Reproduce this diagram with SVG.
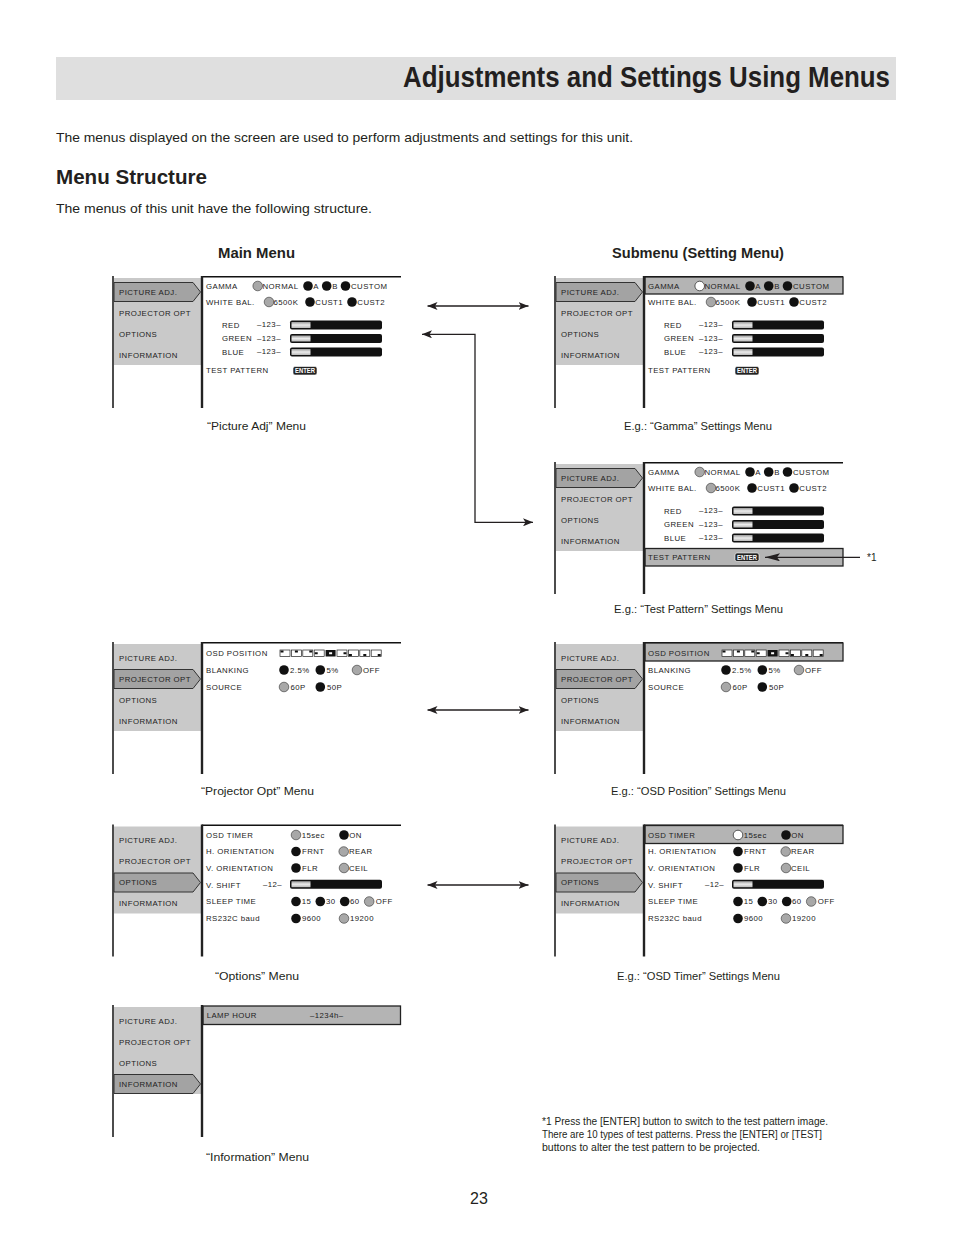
<svg xmlns="http://www.w3.org/2000/svg" width="954" height="1235" viewBox="0 0 954 1235">
<defs>
<style>
.doc{font-family:"Liberation Sans",Arial,sans-serif;fill:#231f20}
.b{font-weight:bold}
.m{font-family:"Liberation Sans",Arial,sans-serif;font-size:7.8px;letter-spacing:0.45px;fill:#222}
.panel{fill:#c9c9c9}
.frame{stroke:#111;stroke-width:1.5;fill:none}
.dv{stroke:#222;stroke-width:2.4;fill:none}
.sel{fill:#a3a3a3;stroke:#333;stroke-width:1}
.hl{fill:#b4b4b4;stroke:#222;stroke-width:1.3}
.rb{fill:#111}
.rg{fill:#a8a8a8;stroke:#333;stroke-width:0.6}
.rw{fill:#fff;stroke:#333;stroke-width:0.8}
.bar{fill:#111}
.barl{fill:url(#bg)}
.ent{fill:#222;stroke:#fff;stroke-width:0.6}
.entt{font-family:"Liberation Sans",Arial,sans-serif;font-size:6.4px;font-weight:bold;fill:#fff}
.ic{fill:#fff;stroke:#222;stroke-width:0.7}
.icb{fill:#111}
.con{stroke:#231f20;stroke-width:1.3;fill:none}
</style>
<linearGradient id="bg" x1="0" y1="0" x2="0" y2="1">
<stop offset="0" stop-color="#9a9a9a"/>
<stop offset="0.5" stop-color="#ececec"/>
<stop offset="1" stop-color="#b8b8b8"/>
</linearGradient>
<marker id="ah" viewBox="0 0 10 8" refX="10" refY="4" markerWidth="10" markerHeight="8" markerUnits="userSpaceOnUse" orient="auto-start-reverse">
<path d="M0,0 L10,4 L0,8 L2.5,4 Z" fill="#231f20"/>
</marker>
<marker id="ah2" viewBox="0 0 15 8" refX="15" refY="4" markerWidth="15" markerHeight="8" markerUnits="userSpaceOnUse" orient="auto">
<path d="M0,0 L15,4 L0,8 L3,4 Z" fill="#231f20"/>
</marker>
</defs>
<rect width="954" height="1235" fill="#fff"/>

<g id="header">
<rect x="56" y="57" width="840" height="43" fill="#dfdfdf"/>
<text class="doc b" x="403" y="87" font-size="29" textLength="487" lengthAdjust="spacingAndGlyphs">Adjustments and Settings Using Menus</text>
<text class="doc" x="56" y="141.5" font-size="13" textLength="577" lengthAdjust="spacingAndGlyphs">The menus displayed on the screen are used to perform adjustments and settings for this unit.</text>
<text class="doc b" x="56" y="184" font-size="21" textLength="151" lengthAdjust="spacingAndGlyphs">Menu Structure</text>
<text class="doc" x="56" y="212.5" font-size="13" textLength="316" lengthAdjust="spacingAndGlyphs">The menus of this unit have the following structure.</text>
<text class="doc b" x="218" y="258" font-size="14" textLength="77" lengthAdjust="spacingAndGlyphs">Main Menu</text>
<text class="doc b" x="612" y="258" font-size="14" textLength="172" lengthAdjust="spacingAndGlyphs">Submenu (Setting Menu)</text>
</g>

<!-- Picture Adj main menu -->
<g id="menu-picture-main">
<path class="frame" d="M113,276 V408"/>
<rect class="panel" x="114" y="278" width="87" height="87"/>
<path class="frame" d="M202,276.8 H401"/>
<path class="dv" d="M202,276 V408"/>
<path class="sel" d="M114,282.5 H193 L200.5,292 L193,301.5 H114 Z"/>
<text class="m" x="119" y="294.8">PICTURE ADJ.</text>
<text class="m" x="119" y="315.8">PROJECTOR OPT</text>
<text class="m" x="119" y="336.8">OPTIONS</text>
<text class="m" x="119" y="357.8">INFORMATION</text>
<text class="m" x="206" y="288.8">GAMMA</text>
<circle class="rg" cx="257.7" cy="286" r="4.8"/>
<text class="m" x="262.5" y="288.8">NORMAL</text>
<circle class="rb" cx="308" cy="286" r="4.8"/>
<text class="m" x="313.3" y="288.8">A</text>
<circle class="rb" cx="326.7" cy="286" r="4.8"/>
<text class="m" x="332.2" y="288.8">B</text>
<circle class="rb" cx="345.5" cy="286" r="4.8"/>
<text class="m" x="351" y="288.8">CUSTOM</text>
<text class="m" x="206" y="304.8">WHITE BAL.</text>
<circle class="rg" cx="269" cy="302" r="4.8"/>
<text class="m" x="273.5" y="304.8">6500K</text>
<circle class="rb" cx="310" cy="302" r="4.8"/>
<text class="m" x="315.3" y="304.8">CUST1</text>
<circle class="rb" cx="352" cy="302" r="4.8"/>
<text class="m" x="357.3" y="304.8">CUST2</text>
<text class="m" x="222" y="327.8">RED</text>
<text class="m" x="257" y="327">–123–</text>
<rect class="bar" x="290" y="320.5" width="92" height="9" rx="2"/>
<rect class="barl" x="291.5" y="322" width="19" height="6"/>
<text class="m" x="222" y="341.3">GREEN</text>
<text class="m" x="257" y="340.5">–123–</text>
<rect class="bar" x="290" y="334" width="92" height="9" rx="2"/>
<rect class="barl" x="291.5" y="335.5" width="19" height="6"/>
<text class="m" x="222" y="354.8">BLUE</text>
<text class="m" x="257" y="354">–123–</text>
<rect class="bar" x="290" y="347.5" width="92" height="9" rx="2"/>
<rect class="barl" x="291.5" y="349" width="19" height="6"/>
<text class="m" x="206" y="373.3">TEST PATTERN</text>
<rect class="ent" x="293" y="366.5" width="24" height="8.5" rx="2"/>
<text class="entt" x="295" y="373.2" textLength="20" lengthAdjust="spacingAndGlyphs">ENTER</text>
</g>
<text class="doc" x="207" y="430" font-size="11" textLength="99" lengthAdjust="spacingAndGlyphs">“Picture Adj” Menu</text>

<!-- Gamma submenu -->
<g id="menu-gamma-sub" transform="translate(442,0)">
<path class="frame" d="M113,276 V408"/>
<rect class="panel" x="114" y="278" width="87" height="87"/>
<path class="frame" d="M202,276.8 H401"/>
<rect class="hl" x="203" y="277" width="198" height="17"/>
<path class="dv" d="M202,276 V408"/>
<path class="sel" d="M114,282.5 H193 L200.5,292 L193,301.5 H114 Z"/>
<text class="m" x="119" y="294.8">PICTURE ADJ.</text>
<text class="m" x="119" y="315.8">PROJECTOR OPT</text>
<text class="m" x="119" y="336.8">OPTIONS</text>
<text class="m" x="119" y="357.8">INFORMATION</text>
<text class="m" x="206" y="288.8">GAMMA</text>
<circle class="rw" cx="257.7" cy="286" r="4.8"/>
<text class="m" x="262.5" y="288.8">NORMAL</text>
<circle class="rb" cx="308" cy="286" r="4.8"/>
<text class="m" x="313.3" y="288.8">A</text>
<circle class="rb" cx="326.7" cy="286" r="4.8"/>
<text class="m" x="332.2" y="288.8">B</text>
<circle class="rb" cx="345.5" cy="286" r="4.8"/>
<text class="m" x="351" y="288.8">CUSTOM</text>
<text class="m" x="206" y="304.8">WHITE BAL.</text>
<circle class="rg" cx="269" cy="302" r="4.8"/>
<text class="m" x="273.5" y="304.8">6500K</text>
<circle class="rb" cx="310" cy="302" r="4.8"/>
<text class="m" x="315.3" y="304.8">CUST1</text>
<circle class="rb" cx="352" cy="302" r="4.8"/>
<text class="m" x="357.3" y="304.8">CUST2</text>
<text class="m" x="222" y="327.8">RED</text>
<text class="m" x="257" y="327">–123–</text>
<rect class="bar" x="290" y="320.5" width="92" height="9" rx="2"/>
<rect class="barl" x="291.5" y="322" width="19" height="6"/>
<text class="m" x="222" y="341.3">GREEN</text>
<text class="m" x="257" y="340.5">–123–</text>
<rect class="bar" x="290" y="334" width="92" height="9" rx="2"/>
<rect class="barl" x="291.5" y="335.5" width="19" height="6"/>
<text class="m" x="222" y="354.8">BLUE</text>
<text class="m" x="257" y="354">–123–</text>
<rect class="bar" x="290" y="347.5" width="92" height="9" rx="2"/>
<rect class="barl" x="291.5" y="349" width="19" height="6"/>
<text class="m" x="206" y="373.3">TEST PATTERN</text>
<rect class="ent" x="293" y="366.5" width="24" height="8.5" rx="2"/>
<text class="entt" x="295" y="373.2" textLength="20" lengthAdjust="spacingAndGlyphs">ENTER</text>
</g>
<text class="doc" x="624" y="430" font-size="11" textLength="148" lengthAdjust="spacingAndGlyphs">E.g.: “Gamma” Settings Menu</text>

<!-- Test pattern submenu -->
<g id="menu-testpattern-sub" transform="translate(442,186)">
<path class="frame" d="M113,276 V408"/>
<rect class="panel" x="114" y="278" width="87" height="87"/>
<path class="frame" d="M202,276.8 H401"/>
<rect class="hl" x="203" y="362.5" width="198" height="17.5"/>
<path class="dv" d="M202,276 V408"/>
<path class="sel" d="M114,282.5 H193 L200.5,292 L193,301.5 H114 Z"/>
<text class="m" x="119" y="294.8">PICTURE ADJ.</text>
<text class="m" x="119" y="315.8">PROJECTOR OPT</text>
<text class="m" x="119" y="336.8">OPTIONS</text>
<text class="m" x="119" y="357.8">INFORMATION</text>
<text class="m" x="206" y="288.8">GAMMA</text>
<circle class="rg" cx="257.7" cy="286" r="4.8"/>
<text class="m" x="262.5" y="288.8">NORMAL</text>
<circle class="rb" cx="308" cy="286" r="4.8"/>
<text class="m" x="313.3" y="288.8">A</text>
<circle class="rb" cx="326.7" cy="286" r="4.8"/>
<text class="m" x="332.2" y="288.8">B</text>
<circle class="rb" cx="345.5" cy="286" r="4.8"/>
<text class="m" x="351" y="288.8">CUSTOM</text>
<text class="m" x="206" y="304.8">WHITE BAL.</text>
<circle class="rg" cx="269" cy="302" r="4.8"/>
<text class="m" x="273.5" y="304.8">6500K</text>
<circle class="rb" cx="310" cy="302" r="4.8"/>
<text class="m" x="315.3" y="304.8">CUST1</text>
<circle class="rb" cx="352" cy="302" r="4.8"/>
<text class="m" x="357.3" y="304.8">CUST2</text>
<text class="m" x="222" y="327.8">RED</text>
<text class="m" x="257" y="327">–123–</text>
<rect class="bar" x="290" y="320.5" width="92" height="9" rx="2"/>
<rect class="barl" x="291.5" y="322" width="19" height="6"/>
<text class="m" x="222" y="341.3">GREEN</text>
<text class="m" x="257" y="340.5">–123–</text>
<rect class="bar" x="290" y="334" width="92" height="9" rx="2"/>
<rect class="barl" x="291.5" y="335.5" width="19" height="6"/>
<text class="m" x="222" y="354.8">BLUE</text>
<text class="m" x="257" y="354">–123–</text>
<rect class="bar" x="290" y="347.5" width="92" height="9" rx="2"/>
<rect class="barl" x="291.5" y="349" width="19" height="6"/>
<text class="m" x="206" y="373.9">TEST PATTERN</text>
<rect class="ent" x="293" y="367" width="24" height="8.5" rx="2"/>
<text class="entt" x="295" y="373.8" textLength="20" lengthAdjust="spacingAndGlyphs">ENTER</text>
</g>
<text class="doc" x="867" y="561" font-size="10">*1</text>
<text class="doc" x="614" y="613" font-size="11" textLength="169" lengthAdjust="spacingAndGlyphs">E.g.: “Test Pattern” Settings Menu</text>

<!-- Projector Opt main -->
<g id="menu-projector-main" transform="translate(0,366)">
<path class="frame" d="M113,276 V408"/>
<rect class="panel" x="114" y="278" width="87" height="87"/>
<path class="frame" d="M202,276.8 H401"/>
<path class="dv" d="M202,276 V408"/>
<path class="sel" d="M114,303.5 H193 L200.5,313 L193,322.5 H114 Z"/>
<text class="m" x="119" y="294.8">PICTURE ADJ.</text>
<text class="m" x="119" y="315.8">PROJECTOR OPT</text>
<text class="m" x="119" y="336.8">OPTIONS</text>
<text class="m" x="119" y="357.8">INFORMATION</text>
<text class="m" x="206" y="289.8">OSD POSITION</text>
<rect class="ic" x="280" y="284" width="10" height="6.5"/><rect class="icb" x="280.5" y="284.5" width="3" height="2"/>
<rect class="ic" x="291.4" y="284" width="10" height="6.5"/><rect class="icb" x="294.9" y="284.5" width="3" height="2"/>
<rect class="ic" x="302.8" y="284" width="10" height="6.5"/><rect class="icb" x="309.3" y="284.5" width="3" height="2"/>
<rect class="ic" x="314.2" y="284" width="10" height="6.5"/><rect class="icb" x="314.7" y="286.25" width="3" height="2"/>
<rect class="icb" x="325.6" y="284" width="10" height="6.5"/><rect fill="#fff" x="329.1" y="286.25" width="3" height="2"/>
<rect class="ic" x="337" y="284" width="10" height="6.5"/><rect class="icb" x="343.5" y="286.25" width="3" height="2"/>
<rect class="ic" x="348.4" y="284" width="10" height="6.5"/><rect class="icb" x="348.9" y="288" width="3" height="2"/>
<rect class="ic" x="359.8" y="284" width="10" height="6.5"/><rect class="icb" x="363.3" y="288" width="3" height="2"/>
<rect class="ic" x="371.2" y="284" width="10" height="6.5"/><rect class="icb" x="377.7" y="288" width="3" height="2"/>
<text class="m" x="206" y="306.8">BLANKING</text>
<circle class="rb" cx="284" cy="304" r="4.8"/>
<text class="m" x="290" y="306.8">2.5%</text>
<circle class="rb" cx="320.3" cy="304" r="4.8"/>
<text class="m" x="326.5" y="306.8">5%</text>
<circle class="rg" cx="357" cy="304" r="4.8"/>
<text class="m" x="363" y="306.8">OFF</text>
<text class="m" x="206" y="323.8">SOURCE</text>
<circle class="rg" cx="284" cy="321" r="4.8"/>
<text class="m" x="290.5" y="323.8">60P</text>
<circle class="rb" cx="320.3" cy="321" r="4.8"/>
<text class="m" x="327" y="323.8">50P</text>
</g>
<text class="doc" x="201" y="795" font-size="11" textLength="113" lengthAdjust="spacingAndGlyphs">“Projector Opt” Menu</text>

<!-- Projector Opt submenu -->
<g id="menu-projector-sub" transform="translate(442,366)">
<path class="frame" d="M113,276 V408"/>
<rect class="panel" x="114" y="278" width="87" height="87"/>
<path class="frame" d="M202,276.8 H401"/>
<rect class="hl" x="203" y="277" width="198" height="18"/>
<path class="dv" d="M202,276 V408"/>
<path class="sel" d="M114,303.5 H193 L200.5,313 L193,322.5 H114 Z"/>
<text class="m" x="119" y="294.8">PICTURE ADJ.</text>
<text class="m" x="119" y="315.8">PROJECTOR OPT</text>
<text class="m" x="119" y="336.8">OPTIONS</text>
<text class="m" x="119" y="357.8">INFORMATION</text>
<text class="m" x="206" y="289.8">OSD POSITION</text>
<rect class="ic" x="280" y="284" width="10" height="6.5"/><rect class="icb" x="280.5" y="284.5" width="3" height="2"/>
<rect class="ic" x="291.4" y="284" width="10" height="6.5"/><rect class="icb" x="294.9" y="284.5" width="3" height="2"/>
<rect class="ic" x="302.8" y="284" width="10" height="6.5"/><rect class="icb" x="309.3" y="284.5" width="3" height="2"/>
<rect class="ic" x="314.2" y="284" width="10" height="6.5"/><rect class="icb" x="314.7" y="286.25" width="3" height="2"/>
<rect class="icb" x="325.6" y="284" width="10" height="6.5"/><rect fill="#fff" x="329.1" y="286.25" width="3" height="2"/>
<rect class="ic" x="337" y="284" width="10" height="6.5"/><rect class="icb" x="343.5" y="286.25" width="3" height="2"/>
<rect class="ic" x="348.4" y="284" width="10" height="6.5"/><rect class="icb" x="348.9" y="288" width="3" height="2"/>
<rect class="ic" x="359.8" y="284" width="10" height="6.5"/><rect class="icb" x="363.3" y="288" width="3" height="2"/>
<rect class="ic" x="371.2" y="284" width="10" height="6.5"/><rect class="icb" x="377.7" y="288" width="3" height="2"/>
<text class="m" x="206" y="306.8">BLANKING</text>
<circle class="rb" cx="284" cy="304" r="4.8"/>
<text class="m" x="290" y="306.8">2.5%</text>
<circle class="rb" cx="320.3" cy="304" r="4.8"/>
<text class="m" x="326.5" y="306.8">5%</text>
<circle class="rg" cx="357" cy="304" r="4.8"/>
<text class="m" x="363" y="306.8">OFF</text>
<text class="m" x="206" y="323.8">SOURCE</text>
<circle class="rg" cx="284" cy="321" r="4.8"/>
<text class="m" x="290.5" y="323.8">60P</text>
<circle class="rb" cx="320.3" cy="321" r="4.8"/>
<text class="m" x="327" y="323.8">50P</text>
</g>
<text class="doc" x="611" y="795" font-size="11" textLength="175" lengthAdjust="spacingAndGlyphs">E.g.: “OSD Position” Settings Menu</text>

<!-- Options main -->
<g id="menu-options-main" transform="translate(0,548.5)">
<path class="frame" d="M113,276 V408"/>
<rect class="panel" x="114" y="278" width="87" height="87"/>
<path class="frame" d="M202,276.8 H401"/>
<path class="dv" d="M202,276 V408"/>
<path class="sel" d="M114,324.5 H193 L200.5,334 L193,343.5 H114 Z"/>
<text class="m" x="119" y="294.8">PICTURE ADJ.</text>
<text class="m" x="119" y="315.8">PROJECTOR OPT</text>
<text class="m" x="119" y="336.8">OPTIONS</text>
<text class="m" x="119" y="357.8">INFORMATION</text>
<text class="m" x="206" y="289.3">OSD TIMER</text>
<circle class="rg" cx="296" cy="286.5" r="4.8"/>
<text class="m" x="301.7" y="289.3">15sec</text>
<circle class="rb" cx="344" cy="286.5" r="4.8"/>
<text class="m" x="349.3" y="289.3">ON</text>
<text class="m" x="206" y="305.8">H. ORIENTATION</text>
<circle class="rb" cx="296" cy="303" r="4.8"/>
<text class="m" x="302" y="305.8">FRNT</text>
<circle class="rg" cx="343.7" cy="303" r="4.8"/>
<text class="m" x="349" y="305.8">REAR</text>
<text class="m" x="206" y="322.3">V. ORIENTATION</text>
<circle class="rb" cx="296" cy="319.5" r="4.8"/>
<text class="m" x="302" y="322.3">FLR</text>
<circle class="rg" cx="344" cy="319.5" r="4.8"/>
<text class="m" x="349" y="322.3">CEIL</text>
<text class="m" x="206" y="339.3">V. SHIFT</text>
<text class="m" x="263" y="338">–12–</text>
<rect class="bar" x="290" y="331.2" width="92" height="9" rx="2"/>
<rect class="barl" x="291.5" y="332.7" width="19" height="6"/>
<text class="m" x="206" y="355.8">SLEEP TIME</text>
<circle class="rb" cx="296" cy="353" r="4.8"/>
<text class="m" x="301.7" y="355.8">15</text>
<circle class="rb" cx="320.3" cy="353" r="4.8"/>
<text class="m" x="326" y="355.8">30</text>
<circle class="rb" cx="344.7" cy="353" r="4.8"/>
<text class="m" x="350" y="355.8">60</text>
<circle class="rg" cx="369.2" cy="353" r="4.8"/>
<text class="m" x="375.7" y="355.8">OFF</text>
<text class="m" x="206" y="372.8">RS232C baud</text>
<circle class="rb" cx="296" cy="370" r="4.8"/>
<text class="m" x="302" y="372.8">9600</text>
<circle class="rg" cx="344" cy="370" r="4.8"/>
<text class="m" x="350" y="372.8">19200</text>
</g>
<text class="doc" x="215" y="980" font-size="11" textLength="84" lengthAdjust="spacingAndGlyphs">“Options” Menu</text>

<!-- Options submenu -->
<g id="menu-options-sub" transform="translate(442,548.5)">
<path class="frame" d="M113,276 V408"/>
<rect class="panel" x="114" y="278" width="87" height="87"/>
<path class="frame" d="M202,276.8 H401"/>
<rect class="hl" x="203" y="277" width="198" height="18"/>
<path class="dv" d="M202,276 V408"/>
<path class="sel" d="M114,324.5 H193 L200.5,334 L193,343.5 H114 Z"/>
<text class="m" x="119" y="294.8">PICTURE ADJ.</text>
<text class="m" x="119" y="315.8">PROJECTOR OPT</text>
<text class="m" x="119" y="336.8">OPTIONS</text>
<text class="m" x="119" y="357.8">INFORMATION</text>
<text class="m" x="206" y="289.3">OSD TIMER</text>
<circle class="rw" cx="296" cy="286.5" r="4.8"/>
<text class="m" x="301.7" y="289.3">15sec</text>
<circle class="rb" cx="344" cy="286.5" r="4.8"/>
<text class="m" x="349.3" y="289.3">ON</text>
<text class="m" x="206" y="305.8">H. ORIENTATION</text>
<circle class="rb" cx="296" cy="303" r="4.8"/>
<text class="m" x="302" y="305.8">FRNT</text>
<circle class="rg" cx="343.7" cy="303" r="4.8"/>
<text class="m" x="349" y="305.8">REAR</text>
<text class="m" x="206" y="322.3">V. ORIENTATION</text>
<circle class="rb" cx="296" cy="319.5" r="4.8"/>
<text class="m" x="302" y="322.3">FLR</text>
<circle class="rg" cx="344" cy="319.5" r="4.8"/>
<text class="m" x="349" y="322.3">CEIL</text>
<text class="m" x="206" y="339.3">V. SHIFT</text>
<text class="m" x="263" y="338">–12–</text>
<rect class="bar" x="290" y="331.2" width="92" height="9" rx="2"/>
<rect class="barl" x="291.5" y="332.7" width="19" height="6"/>
<text class="m" x="206" y="355.8">SLEEP TIME</text>
<circle class="rb" cx="296" cy="353" r="4.8"/>
<text class="m" x="301.7" y="355.8">15</text>
<circle class="rb" cx="320.3" cy="353" r="4.8"/>
<text class="m" x="326" y="355.8">30</text>
<circle class="rb" cx="344.7" cy="353" r="4.8"/>
<text class="m" x="350" y="355.8">60</text>
<circle class="rg" cx="369.2" cy="353" r="4.8"/>
<text class="m" x="375.7" y="355.8">OFF</text>
<text class="m" x="206" y="372.8">RS232C baud</text>
<circle class="rb" cx="296" cy="370" r="4.8"/>
<text class="m" x="302" y="372.8">9600</text>
<circle class="rg" cx="344" cy="370" r="4.8"/>
<text class="m" x="350" y="372.8">19200</text>
</g>
<text class="doc" x="617" y="980" font-size="11" textLength="163" lengthAdjust="spacingAndGlyphs">E.g.: “OSD Timer” Settings Menu</text>

<!-- Information main -->
<g id="menu-information-main" transform="translate(0,729)">
<path class="frame" d="M113,276 V408"/>
<rect class="panel" x="114" y="278" width="87" height="87"/>
<rect class="hl" x="203" y="277" width="197.5" height="18.5"/>
<path class="dv" d="M202,276 V408"/>
<path class="sel" d="M114,345.5 H193 L200.5,355 L193,364.5 H114 Z"/>
<text class="m" x="119" y="294.8">PICTURE ADJ.</text>
<text class="m" x="119" y="315.8">PROJECTOR OPT</text>
<text class="m" x="119" y="336.8">OPTIONS</text>
<text class="m" x="119" y="357.8">INFORMATION</text>
<text class="m" x="206.7" y="289">LAMP HOUR</text>
<text class="m" x="310" y="289">–1234h–</text>
</g>
<text class="doc" x="206" y="1161" font-size="11" textLength="103" lengthAdjust="spacingAndGlyphs">“Information” Menu</text>

<g id="connectors">
<line class="con" x1="427.5" y1="306" x2="528.5" y2="306" marker-start="url(#ah)" marker-end="url(#ah)"/>
<path class="con" d="M422,334.3 H475 V522.3 H533" marker-start="url(#ah)" marker-end="url(#ah)"/>
<line class="con" x1="860" y1="557.3" x2="765" y2="557.3" marker-end="url(#ah2)"/>
<line class="con" x1="427.5" y1="710" x2="528.5" y2="710" marker-start="url(#ah)" marker-end="url(#ah)"/>
<line class="con" x1="427.5" y1="885" x2="528.5" y2="885" marker-start="url(#ah)" marker-end="url(#ah)"/>
</g>

<g id="footnote">
<text class="doc" x="542" y="1125" font-size="10" textLength="286" lengthAdjust="spacingAndGlyphs">*1 Press the [ENTER] button to switch to the test pattern image.</text>
<text class="doc" x="542" y="1138" font-size="10" textLength="280" lengthAdjust="spacingAndGlyphs">There are 10 types of test patterns. Press the [ENTER] or [TEST]</text>
<text class="doc" x="542" y="1151" font-size="10" textLength="218" lengthAdjust="spacingAndGlyphs">buttons to alter the test pattern to be projected.</text>
</g>
<text class="doc" x="479" y="1204" font-size="16" text-anchor="middle">23</text>
</svg>
